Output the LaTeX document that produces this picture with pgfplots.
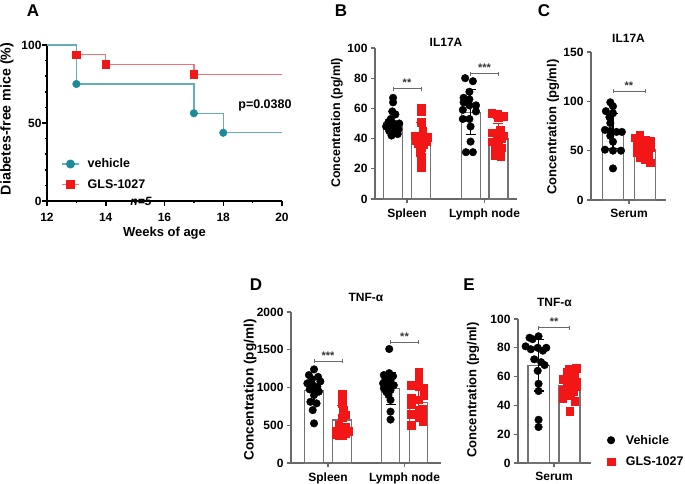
\documentclass[border=0pt]{standalone}
\usepackage{fontspec}
\setmainfont{Liberation Sans}
\usepackage{pgfplots}
\pgfplotsset{compat=1.18}

\definecolor{teal1}{RGB}{30,138,152}
\definecolor{teallt}{RGB}{100,175,186}
\definecolor{red1}{RGB}{242,22,22}
\definecolor{redlt}{RGB}{242,115,115}
\definecolor{axgray}{RGB}{105,105,105}
\definecolor{bargray}{RGB}{115,115,115}

\newcommand{\fs}[1]{\fontsize{#1}{#1}\selectfont\bfseries}
% significance bracket: x1, x2, y, stars
\newcommand{\sig}[4]{%
  \draw[axgray, line width=0.9pt]
    ([yshift=-2pt]axis cs:#1,#3) -- ([yshift=2pt]axis cs:#1,#3)
    ([yshift=-2pt]axis cs:#2,#3) -- ([yshift=2pt]axis cs:#2,#3)
    (axis cs:#1,#3) -- node[above, inner sep=1.5pt, font=\fs{11}, black!80]{#4} (axis cs:#2,#3);}
% panel title at a height given in axis description units
\newcommand{\ptitle}[2]{\node[font=\fs{12}] at (axis description cs:0.5,#1) {#2};}

\pgfplotsset{
  base/.style={scale only axis, anchor=south west, axis lines=left, clip=false,
    tick align=outside, major tick length=4pt, minor tick length=2.5pt,
    ticklabel style={font=\fs{12}}, label style={font=\fs{12.5}},
    /pgf/number format/assume math mode=true,
    /pgf/number format/1000 sep={}},
  barax/.style={base, ymin=0,
    axis line style={-, axgray, line width=1.1pt},
    tick style={axgray, line width=1.1pt},
    xticklabel style={yshift=-2pt}},
  bar/.style={ybar, bar shift=0pt, bar width=0.245, draw=bargray, fill=white, line width=1.1pt},
  veh/.style={only marks, mark=*, mark size=3.8pt, black},
  gls/.style={only marks, mark=square*, mark size=3.8pt, red1, mark options={draw=red1, fill=red1}},
  % one point per plot: the line of a single point draws nothing, only its error bar
  err/.style={forget plot, #1, mark=none, line width=1.1pt, error bars/.cd, y dir=both, y explicit,
    error bar style={#1, line width=1.1pt},
    error mark options={#1, rotate=90, mark size=5pt, line width=1.1pt}},
}

\begin{document}
\begin{tikzpicture}
\path[use as bounding box] (0,0) rectangle (685pt,484pt);

% panel letters
\node[font=\fs{17}] at (33pt,473pt) {A};
\node[font=\fs{17}] at (341pt,473pt) {B};
\node[font=\fs{17}] at (544pt,473pt) {C};
\node[font=\fs{17}] at (256pt,199pt) {D};
\node[font=\fs{17}] at (469pt,199pt) {E};

% ---------- A: survival ----------
\begin{axis}[base, at={(47pt,283pt)}, width=235pt, height=156pt,
  xmin=12, xmax=20, ymin=0, ymax=100,
  xtick={12,14,...,20}, ytick={0,50,100},
  minor x tick num=1, minor y tick num=4,
  major tick length=5pt,
  axis line style={-, black, line width=1.5pt},
  tick style={black, line width=1.5pt},
  xticklabel style={yshift=-4pt}, yticklabel style={xshift=3pt},
  xlabel={Weeks of age}, ylabel={Diabetes-free mice (\%)},
  xlabel style={at={(axis description cs:0.5,-0.205)}, anchor=center, font=\fs{13}},
  ylabel style={at={(axis description cs:-0.17,0.526)}, anchor=center, font=\fs{14.2}},
  legend style={at={(0.06,0.285)}, anchor=north west, draw=none, fill=none,
    font=\fs{12.5}, row sep=6pt, inner sep=0pt,
    /tikz/every odd column/.append style={column sep=6pt}},
  legend cell align=left]
\addlegendimage{teallt, line width=1.3pt, mark=*, mark size=3.8pt, mark options={teal1, fill=teal1}}
\addlegendentry{vehicle}
\addlegendimage{redlt, line width=1.3pt, mark=square*, mark size=3.8pt, mark options={red1, fill=red1}}
\addlegendentry{GLS-1027}
\addplot[const plot, redlt, line width=1.3pt, forget plot] coordinates {
(12,100) (13,93.75) (14,87.5) (17,81.25) (20,81.25)};
\addplot[const plot, teallt, line width=1.3pt, forget plot] coordinates {
(12,100) (13,75) (17,56.25) (18,43.75) (20,43.75)};
\addplot[only marks, mark=square*, mark size=3.8pt, red1, forget plot] coordinates {
(13,93.75) (14,87.5) (17,81.25)};
\addplot[only marks, mark=*, mark size=3.8pt, teal1, forget plot] coordinates {
(13,75) (17,56.25) (18,43.75)};
\node[font=\fs{12.5}] at (axis cs:19.42,61.5) {p=0.0380};
\node[font=\fs{12}\itshape] at (axis cs:15.2,0) {n=5};
\end{axis}

% ---------- B: IL17A spleen / lymph node ----------
\begin{axis}[barax, at={(375pt,285pt)}, width=142pt, height=151pt,
  xmin=-0.413, xmax=1.419, ymax=100,
  xtick={0,1}, xticklabels={Spleen,Lymph node}, ytick={0,20,...,100},
  ylabel={Concentration (pg/ml)},
  ylabel style={at={(axis description cs:-0.268,0.503)}, anchor=center}]
\addplot[bar] coordinates {(-0.18,50.5) (0.18,39.5) (0.82,57.5) (1.18,40)};
\addplot[veh] coordinates {
(-0.18,67) (-0.18,64) (-0.19,58) (-0.15,56) (-0.21,53) (-0.24,51) (-0.17,50) (-0.10,50)
(-0.13,49) (-0.27,48) (-0.20,47) (-0.11,46) (-0.23,45) (-0.16,44) (-0.12,43) (-0.20,42)};
\addplot[gls] coordinates {
(0.18,60) (0.18,58) (0.18,51) (0.20,45) (0.10,42) (0.26,41) (0.18,40) (0.12,39)
(0.25,38) (0.14,37) (0.21,36) (0.18,34) (0.17,31) (0.19,28) (0.18,25) (0.18,21)};
\addplot[veh] coordinates {
(0.75,80) (0.85,78) (0.805,71) (0.73,67) (0.805,66) (0.73,64) (0.805,62) (0.89,62)
(0.72,59) (0.89,58) (0.72,53) (0.805,53) (0.82,48) (0.82,38) (0.76,31) (0.85,31)};
\addplot[gls] coordinates {
(1.09,57) (1.16,56) (1.24,55) (1.18,54) (1.20,46) (1.09,44) (1.24,42) (1.16,41)
(1.22,40) (1.09,38) (1.18,37) (1.14,35) (1.22,34) (1.20,31) (1.13,29) (1.21,28)};
\addplot[err=black] coordinates {(-0.18,50.5) +- (0,7.2)};
\addplot[err=black] coordinates {(0.82,57.5) +- (0,15)};
\addplot[err=red1] coordinates {(0.18,39.5) +- (0,11)};
\addplot[err=red1] coordinates {(1.18,40) +- (0,10)};
\sig{-0.18}{0.18}{73}{**}
\sig{0.82}{1.18}{83}{***}
\ptitle{1.04}{IL17A}
\end{axis}

% ---------- C: IL17A serum ----------
\begin{axis}[barax, at={(591pt,284pt)}, width=75pt, height=148pt,
  xmin=-0.427, xmax=0.416, ymax=150,
  xtick={0}, xticklabels={Serum}, ytick={0,50,100,150},
  ylabel={Concentration (pg/ml)},
  ylabel style={at={(axis description cs:-0.507,0.493)}, anchor=center, font=\fs{13}}]
\addplot[bar] coordinates {(-0.18,70) (0.18,51.5)};
\addplot[veh] coordinates {
(-0.21,99) (-0.18,95) (-0.26,90) (-0.18,88) (-0.22,84) (-0.21,78) (-0.27,71) (-0.21,70)
(-0.14,69) (-0.08,69) (-0.21,65) (-0.18,59) (-0.27,51) (-0.18,50) (-0.09,50) (-0.18,32)};
\addplot[gls] coordinates {
(0.12,66) (0.07,63) (0.18,61) (0.24,60) (0.12,58) (0.09,56) (0.18,55) (0.24,53)
(0.105,51) (0.18,50) (0.09,48) (0.16,46) (0.22,45) (0.12,43) (0.18,41) (0.24,38)};
\addplot[err=black] coordinates {(-0.18,70) +- (0,18)};
\addplot[err=red1] coordinates {(0.18,51.5) +- (0,8)};
\sig{-0.18}{0.18}{110}{**}
\ptitle{1.095}{IL17A}
\end{axis}

% ---------- D: TNF-alpha spleen / lymph node ----------
\begin{axis}[barax, at={(291pt,21pt)}, width=150pt, height=151pt,
  xmin=-0.484, xmax=1.477, ymax=2000,
  xtick={0,1}, xticklabels={Spleen,Lymph node}, ytick={0,500,...,2000},
  ylabel={Concentration (pg/ml)},
  ylabel style={at={(axis description cs:-0.273,0.483)}, anchor=center, font=\fs{13.6}}]
\addplot[bar] coordinates {(-0.183,955) (0.183,570) (0.817,985) (1.183,805)};
\addplot[veh] coordinates {
(-0.183,1240) (-0.25,1165) (-0.13,1140) (-0.21,1110) (-0.10,1080) (-0.27,1055) (-0.20,1030) (-0.14,1010)
(-0.24,975) (-0.17,955) (-0.12,945) (-0.183,900) (-0.23,810) (-0.15,790) (-0.20,700) (-0.183,525)};
\addplot[gls] coordinates {
(0.183,920) (0.183,880) (0.183,790) (0.20,700) (0.23,640) (0.183,600) (0.14,500) (0.23,480)
(0.183,440) (0.10,430) (0.27,420) (0.16,400) (0.23,390) (0.11,380) (0.183,370) (0.14,360)};
\addplot[veh] coordinates {
(0.80,1510) (0.80,1190) (0.73,1165) (0.85,1150) (0.75,1110) (0.817,1100) (0.72,1055) (0.79,1035)
(0.86,1030) (0.73,990) (0.817,965) (0.76,945) (0.79,900) (0.817,835) (0.817,680) (0.817,575)};
\addplot[gls] coordinates {
(1.183,1200) (1.183,1080) (1.09,1030) (1.183,1010) (1.25,990) (1.25,890) (1.09,860) (1.183,840)
(1.09,770) (1.24,710) (1.183,700) (1.09,650) (1.183,610) (1.24,590) (1.24,550) (1.09,500)};
\addplot[err=black] coordinates {(-0.183,955) +- (0,180)};
\addplot[err=black] coordinates {(0.817,985) +- (0,215)};
\addplot[err=red1] coordinates {(0.183,570) +- (0,190)};
\addplot[err=red1] coordinates {(1.183,805) +- (0,205)};
\sig{-0.183}{0.183}{1350}{***}
\sig{0.817}{1.183}{1600}{**}
\ptitle{1.099}{TNF-α}
\end{axis}

% ---------- E: TNF-alpha serum ----------
\begin{axis}[barax, at={(518pt,21pt)}, width=73pt, height=144pt,
  xmin=-0.419, xmax=0.43, ymax=100,
  xtick={0}, xticklabels={Serum}, ytick={0,20,...,100},
  ylabel={Concentration (pg/ml)},
  ylabel style={at={(axis description cs:-0.616,0.507)}, anchor=center, font=\fs{13}},
  legend style={at={(1.22,0.21)}, anchor=north west, draw=none, fill=none,
    font=\fs{12.5}, row sep=7pt, inner sep=0pt,
    /tikz/every odd column/.append style={column sep=9pt}},
  legend cell align=left]
\addplot[forget plot, bar] coordinates {(-0.18,68) (0.18,53.5)};
\addplot[veh] coordinates {
(-0.18,88) (-0.285,87) (-0.25,86) (-0.33,81) (-0.19,80) (-0.09,80) (-0.27,79) (-0.13,78)
(-0.23,72) (-0.15,70) (-0.11,68) (-0.19,64) (-0.18,55) (-0.18,50) (-0.18,30) (-0.18,25)};
\addlegendentry{Vehicle}
\addplot[gls] coordinates {
(0.26,66) (0.17,65) (0.15,63) (0.24,62) (0.10,58) (0.20,57) (0.26,56) (0.15,55)
(0.26,53) (0.18,52) (0.10,51) (0.22,50) (0.16,47) (0.10,45) (0.24,43) (0.18,36)};
\addlegendentry{GLS-1027}
\addplot[err=black] coordinates {(-0.18,68) +- (0,18)};
\addplot[err=red1] coordinates {(0.18,53.5) +- (0,7)};
\sig{-0.18}{0.18}{94}{**}
\ptitle{1.118}{TNF-α}
\end{axis}
\end{tikzpicture}
\end{document}
